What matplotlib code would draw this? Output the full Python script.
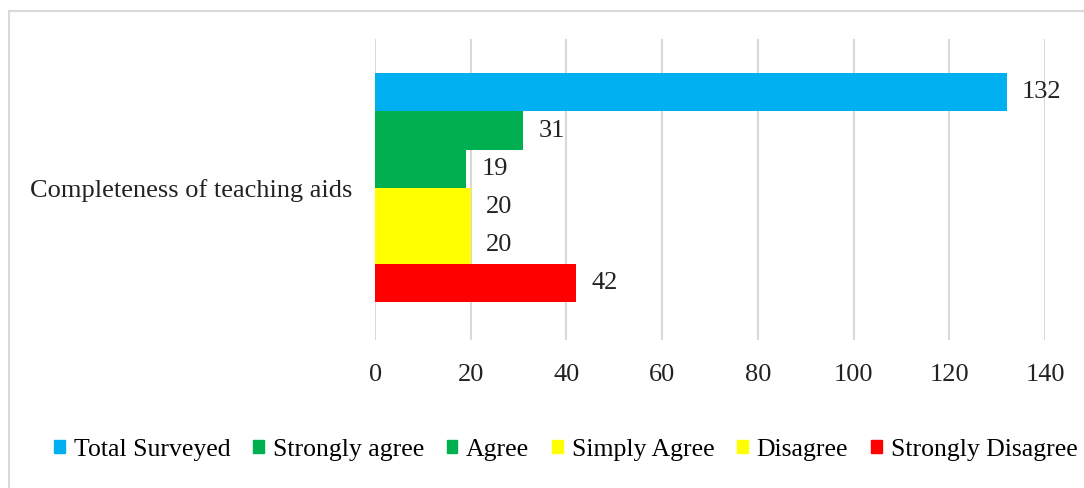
import matplotlib
matplotlib.use("Agg")
from matplotlib import pyplot as plt
from matplotlib.lines import Line2D

matplotlib.rcParams['font.family'] = ['Liberation Serif', 'DejaVu Serif']
matplotlib.rcParams['font.size'] = 19

category = "Completeness of teaching aids"
series = ["Total Surveyed", "Strongly agree", "Agree", "Simply Agree",
          "Disagree", "Strongly Disagree"]
values = [132, 31, 19, 20, 20, 42]
colors = ["#00B0F0", "#00B050", "#00B050", "#FFFF00", "#FFFF00", "#FF0000"]
xticks = [0, 20, 40, 60, 80, 100, 120, 140]

fig = plt.figure(figsize=(10.84, 4.88), dpi=100)
ax = fig.add_axes([0.346, 0.303, 0.618, 0.617])

pos = list(range(len(values)))
bars = ax.barh(pos, values, height=1.0, color=colors, label=series, zorder=3)
for b, v in zip(bars, values):
    ax.annotate(str(v), (v, b.get_y() + b.get_height() / 2),
                xytext=(11, 0), textcoords='offset points',
                va='center', ha='left', fontsize=19, color='#222222')

ax.set_ylim(6.5, -1.4)
ax.set_xlim(0, 140)
ax.set_xticks(xticks)
ax.set_yticks([2.5])
ax.set_yticklabels([category])
ax.tick_params(axis='both', length=0, labelsize=19, colors='#222222')
ax.tick_params(axis='x', pad=17)
ax.tick_params(axis='y', pad=16)
ax.grid(axis='x', color='#D9D9D9', linewidth=1.5, zorder=0)
for s in ax.spines.values():
    s.set_visible(False)

handles = [plt.Rectangle((0, 0), 1, 1, color=c) for c in colors]
fig.legend(handles, series, loc='center', bbox_to_anchor=(0.522, 0.078),
           ncol=6, frameon=False, handlelength=0.4, handleheight=0.4,
           handletextpad=0.35, columnspacing=0.9, fontsize=18.5)

# outer chart border
fig.add_artist(Line2D([0.008, 0.008], [0.0, 0.977], color='#D9D9D9', lw=1.5))
fig.add_artist(Line2D([0.008, 1.0], [0.977, 0.977], color='#D9D9D9', lw=1.5))

fig.savefig("out.png", dpi=100)
